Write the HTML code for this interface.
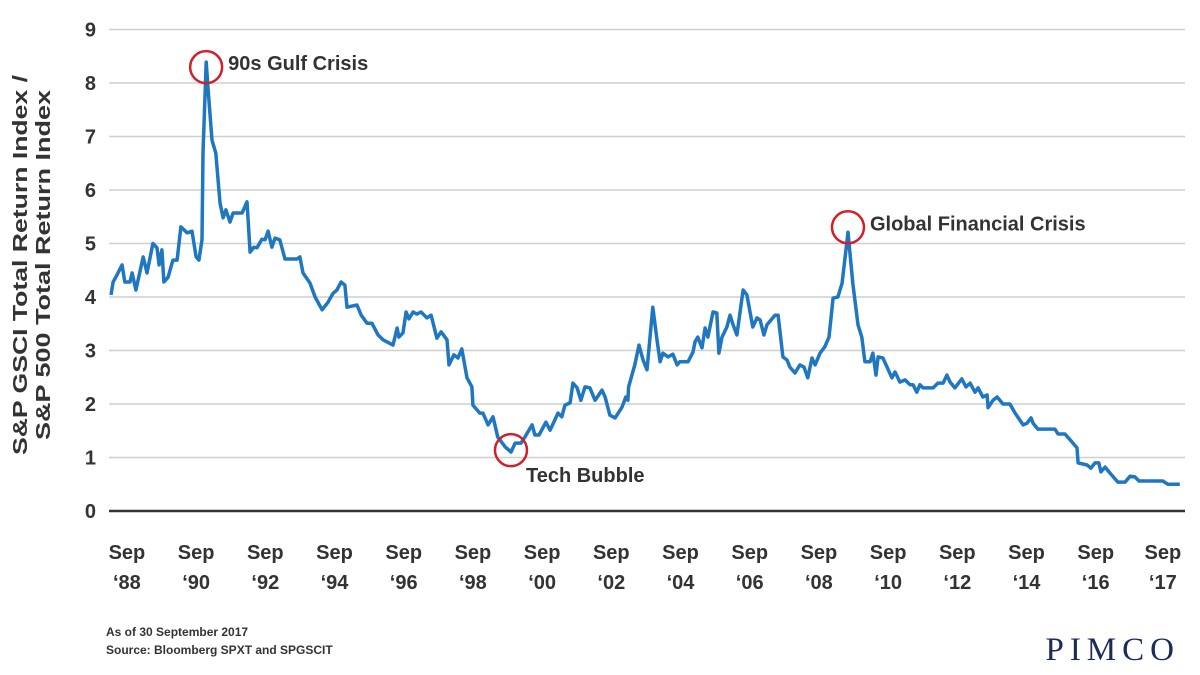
<!DOCTYPE html>
<html><head><meta charset="utf-8"><style>
html,body{margin:0;padding:0;background:#fff;}
svg{display:block;font-family:"Liberation Sans",sans-serif;}
</style></head><body>
<svg id="chart" width="1200" height="675" viewBox="0 0 1200 675" xmlns="http://www.w3.org/2000/svg">
<g id="grid"></g>
<g id="yticks"></g>
<g id="xticks"></g>
<line x1="109" y1="511" x2="1185" y2="511" stroke="#333" stroke-width="2.5"/>
<path id="series" fill="none" stroke="#1f77c0" stroke-width="3.5" stroke-linejoin="round"/>
<g font-size="20" font-weight="bold" fill="#333" text-anchor="middle">
<text transform="translate(27,265) rotate(-90)" textLength="380" lengthAdjust="spacingAndGlyphs">S&amp;P GSCI Total Return Index /</text>
<text transform="translate(50,265) rotate(-90)" textLength="350" lengthAdjust="spacingAndGlyphs">S&amp;P 500 Total Return Index</text>
</g>
<g id="annots" font-size="20" font-weight="bold" fill="#333"></g>
<g font-size="12" font-weight="bold" fill="#333">
<text x="106" y="636">As of 30 September 2017</text>
<text x="106" y="654">Source: Bloomberg SPXT and SPGSCIT</text>
</g>
<text x="1180" y="660" text-anchor="end" font-family="Liberation Serif,serif" font-size="33" letter-spacing="6" fill="#1a2b5c">PIMCO</text>
</svg>
<script>
const dates=[1988.29,1988.35,1988.46,1988.61,1988.69,1988.84,1988.90,1989.01,1989.22,1989.33,1989.50,1989.62,1989.68,1989.76,1989.82,1989.94,1990.08,1990.20,1990.31,1990.49,1990.63,1990.75,1990.83,1990.92,1990.95,1991.04,1991.09,1991.21,1991.32,1991.44,1991.53,1991.61,1991.73,1991.82,1992.08,1992.22,1992.31,1992.42,1992.51,1992.65,1992.74,1992.83,1992.94,1993.03,1993.17,1993.32,1993.67,1993.75,1993.84,1994.04,1994.19,1994.39,1994.56,1994.71,1994.82,1994.94,1995.05,1995.11,1995.40,1995.52,1995.69,1995.83,1996.01,1996.15,1996.44,1996.56,1996.61,1996.73,1996.82,1996.90,1997.02,1997.13,1997.25,1997.42,1997.54,1997.71,1997.83,1998.00,1998.06,1998.20,1998.32,1998.43,1998.58,1998.72,1998.75,1998.95,1999.04,1999.19,1999.33,1999.47,1999.68,1999.85,1999.97,2000.14,2000.25,2000.46,2000.54,2000.66,2000.86,2000.98,2001.21,2001.32,2001.41,2001.56,2001.64,2001.76,2001.87,2001.99,2002.13,2002.28,2002.48,2002.57,2002.71,2002.86,2003.06,2003.17,2003.23,2003.25,2003.43,2003.55,2003.67,2003.78,2003.95,2004.07,2004.16,2004.24,2004.39,2004.53,2004.65,2004.73,2004.97,2005.11,2005.17,2005.25,2005.37,2005.46,2005.54,2005.69,2005.80,2005.86,2005.95,2006.09,2006.18,2006.27,2006.38,2006.56,2006.67,2006.84,2006.96,2007.05,2007.16,2007.25,2007.48,2007.57,2007.71,2007.83,2007.91,2008.06,2008.20,2008.32,2008.43,2008.55,2008.64,2008.78,2008.92,2009.04,2009.16,2009.30,2009.42,2009.59,2009.73,2009.88,2009.99,2010.08,2010.23,2010.31,2010.40,2010.46,2010.60,2010.86,2010.95,2011.09,2011.24,2011.38,2011.47,2011.58,2011.67,2011.76,2012.05,2012.19,2012.34,2012.45,2012.54,2012.68,2012.88,2013.00,2013.12,2013.26,2013.35,2013.49,2013.61,2013.64,2013.78,2013.90,2014.07,2014.27,2014.42,2014.65,2014.76,2014.88,2014.94,2015.08,2015.57,2015.66,2015.86,2016.01,2016.21,2016.24,2016.50,2016.61,2016.73,2016.84,2016.90,2017.02,2017.16,2017.39,2017.60,2017.74,2017.88,2018.00,2018.69,2018.84,2019.18];
const values=[4.04,4.28,4.41,4.6,4.28,4.28,4.45,4.13,4.75,4.45,5.0,4.92,4.6,4.88,4.28,4.37,4.69,4.69,5.31,5.2,5.23,4.75,4.69,5.07,6.69,8.39,7.93,6.93,6.69,5.76,5.48,5.63,5.40,5.57,5.57,5.78,4.84,4.93,4.92,5.08,5.07,5.23,4.93,5.1,5.07,4.71,4.71,4.75,4.45,4.26,4.0,3.76,3.9,4.07,4.13,4.28,4.22,3.81,3.85,3.66,3.51,3.51,3.29,3.2,3.1,3.42,3.25,3.33,3.72,3.59,3.72,3.68,3.72,3.61,3.66,3.23,3.35,3.2,2.73,2.92,2.86,3.03,2.49,2.32,1.98,1.83,1.83,1.61,1.76,1.38,1.2,1.1,1.27,1.27,1.38,1.61,1.42,1.42,1.66,1.51,1.83,1.76,1.98,2.02,2.39,2.3,2.07,2.32,2.3,2.07,2.26,2.13,1.79,1.74,1.94,2.13,2.07,2.32,2.73,3.1,2.82,2.64,3.81,3.2,2.79,2.95,2.88,2.93,2.73,2.79,2.79,2.97,3.16,3.25,3.05,3.42,3.25,3.72,3.7,2.95,3.25,3.44,3.66,3.48,3.29,4.13,4.04,3.44,3.61,3.57,3.29,3.48,3.66,3.66,2.88,2.82,2.69,2.58,2.73,2.69,2.49,2.86,2.73,2.95,3.07,3.25,3.98,4.0,4.26,5.21,4.26,3.48,3.25,2.79,2.79,2.95,2.54,2.88,2.86,2.49,2.6,2.41,2.45,2.36,2.36,2.22,2.36,2.30,2.30,2.39,2.39,2.54,2.41,2.30,2.47,2.32,2.39,2.22,2.30,2.13,2.17,1.93,2.07,2.13,2.0,2.0,1.83,1.61,1.64,1.74,1.64,1.53,1.53,1.44,1.44,1.33,1.18,0.9,0.86,0.8,0.9,0.9,0.73,0.82,0.71,0.54,0.54,0.65,0.64,0.56,0.56,0.50,0.50];
const yTicks=[0,1,2,3,4,5,6,7,8,9];
const xTickDates=[1988.75,1990.75,1992.75,1994.75,1996.75,1998.75,2000.75,2002.75,2004.75,2006.75,2008.75,2010.75,2012.75,2014.75,2016.75,2018.69];
const xTickLabels=["'88","'90","'92","'94","'96","'98","'00","'02","'04","'06","'08","'10","'12","'14","'16","'17"];
const annotDates=[1991.04,1999.85,2009.59];
const annotValues=[8.39,1.1,5.21];
const annotLabels=["90s Gulf Crisis","Tech Bubble","Global Financial Crisis"];

const NS="http://www.w3.org/2000/svg";
const xS=t=>111+(t-1988.29)*34.6;
const yS=v=>511-v*53.5;
function mk(tag,attrs,parent){const e=document.createElementNS(NS,tag);for(const k in attrs)e.setAttribute(k,attrs[k]);parent.appendChild(e);return e;}
const grid=document.getElementById('grid'),yt=document.getElementById('yticks'),xt=document.getElementById('xticks'),an=document.getElementById('annots');
yTicks.forEach(v=>{
 if(v>0){const l=mk('line',{x1:109,x2:1185,y1:yS(v),y2:yS(v),stroke:'#cfcfcf','stroke-width':1.5},grid);
 
 }
 const t=mk('text',{x:96,y:yS(v)+7,'text-anchor':'end','font-size':20,'font-weight':'bold',fill:'#333'},yt);t.textContent=v;
 
 
});
xTickDates.forEach((d,i)=>{
 const g=mk('g',{'font-size':20,'font-weight':'bold',fill:'#333','text-anchor':'middle'},xt);
 
 
 const a=mk('text',{x:xS(d),y:559},g);a.textContent='Sep';
 const b=mk('text',{x:xS(d),y:589},g);b.textContent=xTickLabels[i].replace("'","\u2018");
});
document.getElementById('series').setAttribute('d',dates.map((d,i)=>(i?'L':'M')+xS(d).toFixed(1)+' '+yS(values[i]).toFixed(1)).join(''));
const circOff=[5,-2,-5];
annotDates.forEach((d,i)=>{
 const cx=xS(d),cy=yS(annotValues[i])+circOff[i];
 const c=mk('circle',{cx:cx,cy:cy,r:16,fill:'none',stroke:'#d0202a','stroke-width':2.5},an);
 
 
 const t=mk('text',i==1?{x:cx+15,y:cy+32}:{x:cx+22,y:cy+3},an);t.textContent=annotLabels[i];
 
 
});
</script>
</body></html>
